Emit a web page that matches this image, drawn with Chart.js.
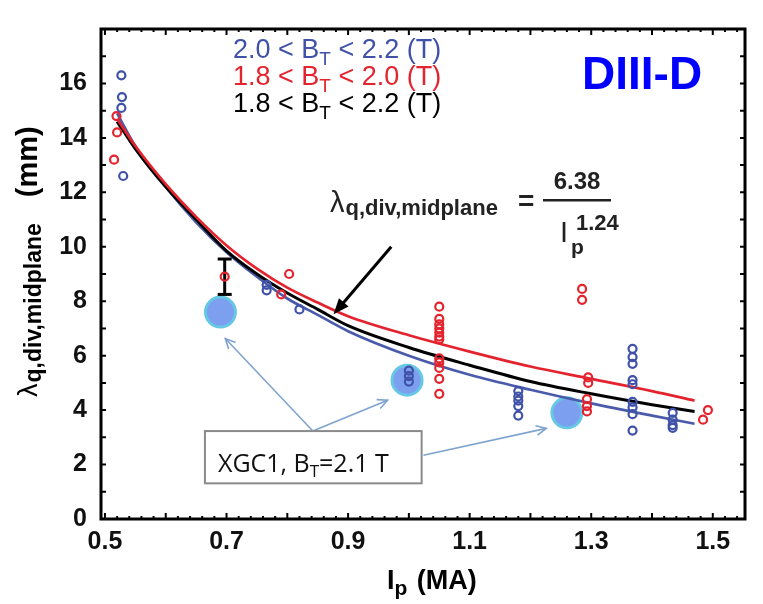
<!DOCTYPE html>
<html>
<head>
<meta charset="utf-8">
<script src="https://cdn.jsdelivr.net/npm/chart.js@4.4.1/dist/chart.umd.min.js"></script>
<style>html,body{margin:0;padding:0;background:#fff}</style>
</head>
<body>
<canvas id="chLambda" width="763" height="604" style="width:763px;height:604px"></canvas>
<script>
// Fitted curves
var fitX     = [0.52, 0.55, 0.60, 0.65, 0.70, 0.75, 0.80, 0.85, 0.90, 1.00, 1.10, 1.20, 1.30, 1.40, 1.47];
var fitBlack = [14.6, 13.6, 12.2, 11.0, 9.85, 9.0, 8.3, 7.7, 7.1, 6.3, 5.65, 5.05, 4.6, 4.2, 3.95];
var fitRed   = [14.7, 13.7, 12.3, 11.1, 10.05, 9.2, 8.5, 7.95, 7.45, 6.75, 6.15, 5.6, 5.15, 4.7, 4.35];
var fitBlue  = [14.9, 13.7, 12.2, 10.9, 9.8, 8.9, 8.1, 7.5, 6.9, 6.0, 5.3, 4.75, 4.25, 3.8, 3.5];

// Measurements, 2.0 < BT < 2.2
var blueX = [0.527, 0.528, 0.527, 0.530, 0.766, 0.766, 0.820, 1.000, 1.000, 1.000,
             1.180, 1.180, 1.180, 1.180, 1.180,
             1.368, 1.368, 1.368, 1.368, 1.368, 1.368, 1.368, 1.368, 1.368,
             1.434, 1.434, 1.434, 1.434];
var blueY = [16.3, 15.5, 15.1, 12.6, 8.6, 8.4, 7.7, 5.45, 5.25, 5.05,
             4.7, 4.5, 4.35, 4.15, 3.8,
             6.25, 5.95, 5.7, 5.1, 4.95, 4.3, 4.1, 3.85, 3.25,
             3.9, 3.65, 3.45, 3.35];

// Measurements, 1.8 < BT < 2.0
var redX = [0.519, 0.520, 0.515, 0.697, 0.790, 0.803,
            1.050, 1.050, 1.050, 1.050, 1.050, 1.050, 1.050, 1.050, 1.050, 1.050, 1.050, 1.050,
            1.285, 1.285, 1.295, 1.295, 1.293, 1.293, 1.293, 1.492, 1.484];
var redY = [14.8, 14.2, 13.2, 8.9, 8.25, 9.0,
            7.8, 7.35, 7.15, 7.0, 6.85, 6.7, 6.6, 5.9, 5.75, 5.55, 5.15, 4.6,
            8.45, 8.05, 5.2, 5.0, 4.4, 4.15, 3.95, 4.0, 3.65];

// XGC1 simulation points
var xgcX = [0.69, 0.997, 1.26];
var xgcY = [7.6, 5.1, 3.9];

// error bar
var errX = 0.697;
var errLo = 8.25, errHi = 9.55;

var xTicks = [0.5, 0.7, 0.9, 1.1, 1.3, 1.5];

var colBlue = '#3f52a8';
var colRed = '#e3242e';

function pts(xs, ys) {
    return xs.map(function (x, i) { return {x: x, y: ys[i]}; });
}

function runs(ctx, x, y, list) {
    list.forEach(function (r) {
        ctx.font = r.f;
        ctx.fillStyle = r.c || '#000';
        ctx.fillText(r.t, x, y + (r.dy || 0));
        x += ctx.measureText(r.t).width + (r.gap || 0);
    });
    return x;
}

function openHead(ctx, x0, y0, x1, y1) {
    var a = Math.atan2(y1 - y0, x1 - x0);
    ctx.beginPath();
    ctx.moveTo(x1 - 11 * Math.cos(a - 0.45), y1 - 11 * Math.sin(a - 0.45));
    ctx.lineTo(x1, y1);
    ctx.lineTo(x1 - 11 * Math.cos(a + 0.45), y1 - 11 * Math.sin(a + 0.45));
    ctx.stroke();
}

var decor = {
    id: 'decor',
    afterDatasetsDraw: function (chart) {
        var ctx = chart.ctx, xs = chart.scales.x, ys = chart.scales.y, ca = chart.chartArea;
        var px = function (v) { return xs.getPixelForValue(v); };
        var py = function (v) { return ys.getPixelForValue(v); };
        ctx.save();

        // frame
        ctx.strokeStyle = '#000';
        ctx.lineWidth = 3;
        ctx.strokeRect(ca.left, ca.top, ca.right - ca.left, ca.bottom - ca.top);

        // inward ticks
        ctx.lineWidth = 2;
        ctx.beginPath();
        for (var i = 0; i <= 18; i++) {
            var y = py(i);
            ctx.moveTo(ca.left, y); ctx.lineTo(ca.left + 5, y);
            ctx.moveTo(ca.right, y); ctx.lineTo(ca.right - 5, y);
        }
        for (var k = 25; k <= 77; k++) {
            var v = k * 0.02, x = px(v);
            var len = (k % 5 === 0) ? 6 : 3;
            ctx.moveTo(x, ca.bottom); ctx.lineTo(x, ca.bottom - len);
            ctx.moveTo(x, ca.top); ctx.lineTo(x, ca.top + len);
        }
        ctx.stroke();

        // XGC1 arrows
        ctx.strokeStyle = '#7fa3cf';
        ctx.lineWidth = 1.6;
        var bx = px(0.842), by = py(3.23);
        var ends = [[0.698, 6.63], [0.965, 4.36]];
        ends.forEach(function (e) {
            ctx.beginPath(); ctx.moveTo(bx, by); ctx.lineTo(px(e[0]), py(e[1])); ctx.stroke();
            openHead(ctx, bx, by, px(e[0]), py(e[1]));
        });
        ctx.beginPath(); ctx.moveTo(px(1.024), py(2.34)); ctx.lineTo(px(1.226), py(3.33)); ctx.stroke();
        openHead(ctx, px(1.024), py(2.34), px(1.226), py(3.33));

        // XGC1 box
        var l = px(0.6645), r = px(1.021), t = py(3.23), b = py(1.31);
        ctx.fillStyle = '#fff';
        ctx.fillRect(l, t, r - l, b - t);
        ctx.strokeStyle = '#8a8a8a';
        ctx.lineWidth = 2;
        ctx.strokeRect(l, t, r - l, b - t);
        ctx.textBaseline = 'alphabetic';
        runs(ctx, l + 13, t + 41, [
            {t: 'XGC1, B', f: '25px "Open Sans", sans-serif', c: '#111'},
            {t: 'T', f: '17px "Open Sans", sans-serif', c: '#111', dy: 5},
            {t: '=2.1 T', f: '25px "Open Sans", sans-serif', c: '#111'}
        ]);

        // black arrow to the fit
        var ax0 = px(0.971), ay0 = py(10.0), ax1 = px(0.876), ay1 = py(7.52);
        var a = Math.atan2(ay1 - ay0, ax1 - ax0);
        ctx.strokeStyle = '#000';
        ctx.fillStyle = '#000';
        ctx.lineWidth = 3;
        ctx.beginPath(); ctx.moveTo(ax0, ay0); ctx.lineTo(ax1 - 12 * Math.cos(a), ay1 - 12 * Math.sin(a)); ctx.stroke();
        ctx.beginPath();
        ctx.moveTo(ax1, ay1);
        ctx.lineTo(ax1 - 17 * Math.cos(a - 0.38), ay1 - 17 * Math.sin(a - 0.38));
        ctx.lineTo(ax1 - 17 * Math.cos(a + 0.38), ay1 - 17 * Math.sin(a + 0.38));
        ctx.closePath(); ctx.fill();

        // legend
        var leg = [['2.0', '2.2', colBlue], ['1.8', '2.0', colRed], ['1.8', '2.2', '#000']];
        leg.forEach(function (g, i) {
            var f = '27px "Liberation Sans", Arial, sans-serif';
            runs(ctx, 233, 58 + i * 27, [
                {t: g[0] + ' < B', f: f, c: g[2]},
                {t: 'T', f: '19px "Liberation Sans", Arial, sans-serif', c: g[2], dy: 7},
                {t: ' < ' + g[1] + ' (T)', f: f, c: g[2]}
            ]);
        });

        // DIII-D
        ctx.fillStyle = '#0000ff';
        ctx.font = 'bold 46px "Liberation Sans", Arial, sans-serif';
        ctx.fillText('DIII-D', 582, 89);

        // fit equation
        runs(ctx, 330, 212, [
            {t: '\u03bb', f: '29px "Liberation Sans", Arial, sans-serif', c: '#222', gap: 1},
            {t: 'q,div,midplane', f: 'bold 22px "Liberation Sans", Arial, sans-serif', c: '#222', dy: 3}
        ]);
        ctx.font = 'bold 28px "Liberation Sans", Arial, sans-serif';
        ctx.fillStyle = '#222';
        ctx.fillText('=', 518, 210);
        ctx.textAlign = 'center';
        ctx.font = 'bold 24px "Liberation Sans", Arial, sans-serif';
        ctx.fillText('6.38', 577, 189);
        ctx.textAlign = 'left';
        ctx.fillRect(543, 199, 68, 2.5);
        runs(ctx, 560, 242, [
            {t: 'I', f: '29px "Liberation Sans", Arial, sans-serif', c: '#222'}
        ]);
        runs(ctx, 571, 254, [
            {t: 'p', f: 'bold 21px "Liberation Sans", Arial, sans-serif', c: '#222'}
        ]);
        runs(ctx, 576, 230, [
            {t: '1.24', f: 'bold 22px "Liberation Sans", Arial, sans-serif', c: '#222'}
        ]);

        // axis titles
        runs(ctx, 387, 589, [
            {t: 'I', f: 'bold 27px "Liberation Sans", Arial, sans-serif'},
            {t: 'p', f: 'bold 21px "Liberation Sans", Arial, sans-serif', dy: 6, gap: 2},
            {t: ' (MA)', f: 'bold 27px "Liberation Sans", Arial, sans-serif'}
        ]);
        ctx.translate(37, 397);
        ctx.rotate(-Math.PI / 2);
        var e = runs(ctx, 0, 0, [
            {t: '\u03bb', f: '27px "Liberation Sans", Arial, sans-serif', gap: 1},
            {t: 'q,div,midplane', f: 'bold 23px "Liberation Sans", Arial, sans-serif', dy: 4}
        ]);
        runs(ctx, e + 26, 0, [{t: '(mm)', f: 'bold 29px "Liberation Sans", Arial, sans-serif'}]);
        ctx.restore();
    }
};

var lineDs = function (ys, col, w) {
    return {
        type: 'line', data: pts(fitX, ys), borderColor: col, borderWidth: w,
        pointRadius: 0, fill: false, cubicInterpolationMode: 'monotone', order: 2
    };
};

var chLambda = document.getElementById('chLambda');
new Chart(chLambda, {
    type: 'scatter',
    data: {
        datasets: [
            {data: pts(blueX, blueY), borderColor: colBlue, backgroundColor: 'rgba(0,0,0,0)',
             pointRadius: 4, borderWidth: 2.2, order: 1},
            {data: pts(redX, redY), borderColor: colRed, backgroundColor: 'rgba(0,0,0,0)',
             pointRadius: 4, borderWidth: 2.2, order: 1},
            {type: 'line', data: [{x: errX, y: errLo}, {x: errX, y: errHi}], borderColor: '#000',
             borderWidth: 3, pointStyle: 'line', pointRadius: 7, pointBorderWidth: 3, order: 1},
            lineDs(fitRed, colRed, 2.7),
            lineDs(fitBlack, '#000', 3),
            lineDs(fitBlue, '#4a5bab', 2.7),
            {data: pts(xgcX, xgcY), backgroundColor: '#7c9ff0', borderColor: '#66c8e4',
             pointRadius: 15, borderWidth: 3, order: 5}
        ]
    },
    options: {
        responsive: false,
        animation: false,
        layout: {padding: {top: 12, right: 5, left: 0, bottom: 0}},
        plugins: {legend: {display: false}, tooltip: {enabled: false}},
        scales: {
            x: {
                type: 'linear', min: 0.4935, max: 1.553,
                grid: {display: false, drawTicks: false},
                border: {display: false},
                afterBuildTicks: function (s) { s.ticks = xTicks.map(function (v) { return {value: v}; }); },
                afterFit: function (s) { s.height = 85; },
                ticks: {padding: 8, color: '#111', font: {family: '"Liberation Sans", Arial, sans-serif', size: 25, weight: 'bold'},
                        maxRotation: 0, callback: function (v) { return v.toFixed(1); }}
            },
            y: {
                min: 0, max: 18,
                grid: {display: false, drawTicks: false},
                border: {display: false},
                afterFit: function (s) { s.width = 101; },
                ticks: {stepSize: 2, padding: 14, color: '#111', font: {family: '"Liberation Sans", Arial, sans-serif', size: 25, weight: 'bold'},
                        callback: function (v) { return v === 18 ? '' : v; }}
            }
        }
    },
    plugins: [decor]
});
</script>
</body>
</html>
